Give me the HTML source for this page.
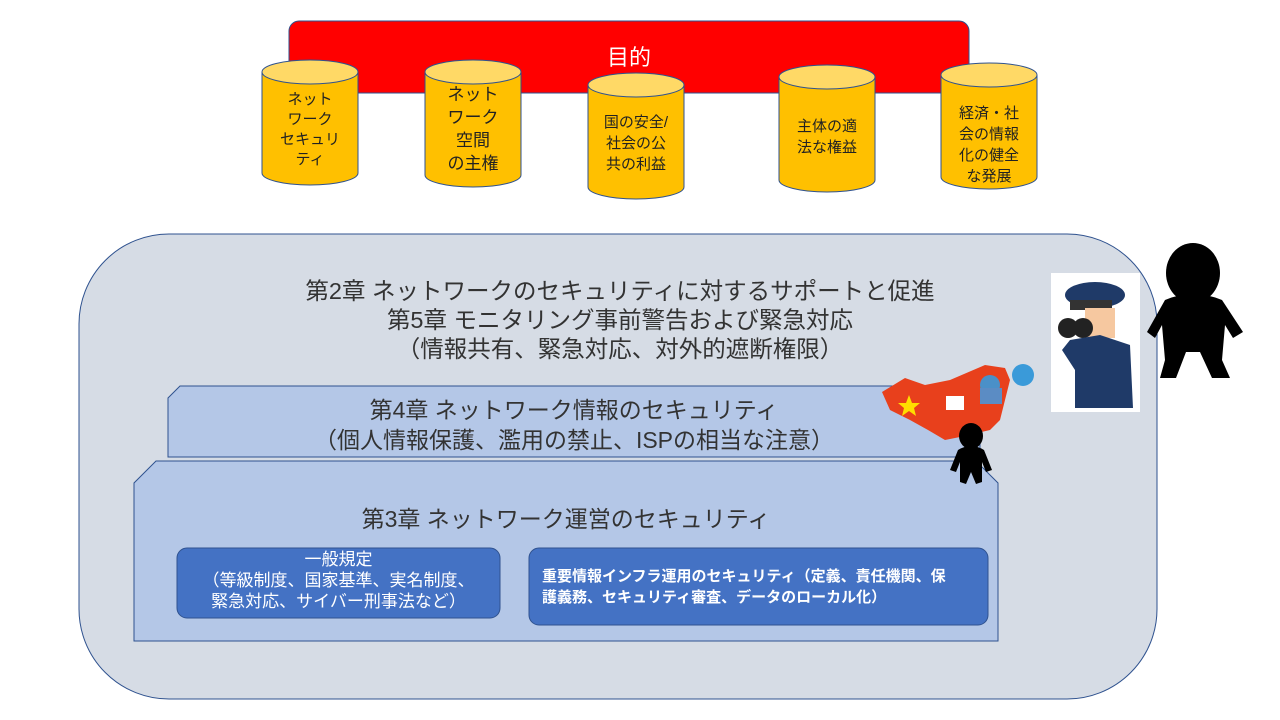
<!DOCTYPE html>
<html><head><meta charset="utf-8"><style>
body{margin:0;width:1280px;height:720px;background:#fff;position:relative;overflow:hidden;font-family:"Liberation Sans","Noto Sans CJK JP",sans-serif;}
.t{position:absolute;text-align:center;color:#222;white-space:nowrap}
svg{position:absolute;left:0;top:0}
</style></head><body>
<svg width="1280" height="720">
<rect x="289" y="21" width="680" height="72" rx="10" fill="#ff0000" stroke="#2f528f" stroke-width="1"/>
<g fill="#ffc000" stroke="#2f528f" stroke-width="1">
<path d="M262,72 v101 a48,12 0 0 0 96,0 v-101"/><ellipse cx="310" cy="72" rx="48" ry="12" fill="#ffd966"/>
<path d="M425,72 v103 a48,12 0 0 0 96,0 v-103"/><ellipse cx="473" cy="72" rx="48" ry="12" fill="#ffd966"/>
<path d="M588,85 v102 a48,12 0 0 0 96,0 v-102"/><ellipse cx="636" cy="85" rx="48" ry="12" fill="#ffd966"/>
<path d="M779,77 v103 a48,12 0 0 0 96,0 v-103"/><ellipse cx="827" cy="77" rx="48" ry="12" fill="#ffd966"/>
<path d="M941,75 v102 a48,12 0 0 0 96,0 v-102"/><ellipse cx="989" cy="75" rx="48" ry="12" fill="#ffd966"/>
</g>
<rect x="79" y="234" width="1078" height="465" rx="90" fill="#d6dce5" stroke="#2f528f"/>
<path d="M180,386 H968 L980,398 V457 H168 V398 Z" fill="#b4c7e7" stroke="#2f528f"/>
<path d="M156,461 H976 L998,483 V641 H134 V483 Z" fill="#b4c7e7" stroke="#2f528f"/>
<rect x="177" y="548" width="323" height="70" rx="10" fill="#4472c4" stroke="#2f528f"/>
<rect x="529" y="548" width="459" height="77" rx="10" fill="#4472c4" stroke="#2f528f"/>
<path d="M882,392 L905,378 L925,385 L950,380 L985,365 L1005,368 L1010,380 L1005,400 L1000,420 L990,430 L960,437 L945,440 L928,430 L910,420 L890,410 Z" fill="#e8401c"/>
<polygon points="909,395 912,403 920,403 914,408 916,416 909,411 902,416 904,408 898,403 906,403" fill="#ffde00"/>
<rect x="946" y="396" width="18" height="14" fill="#fff"/>
<circle cx="990" cy="385" r="10" fill="#4a90c8"/><rect x="980" y="388" width="22" height="16" fill="#5b8cc4"/>
<circle cx="1023" cy="375" r="11" fill="#3a9ad9"/>
<ellipse cx="971" cy="436" rx="12" ry="13" fill="#000"/>
<path d="M958,450 Q971,442 984,450 L992,470 L986,472 L982,462 L982,482 L976,484 L971,472 L966,484 L960,482 L960,462 L956,472 L950,470 Z" fill="#000"/>
<rect x="1051" y="273" width="89" height="139" fill="#fff"/>
<ellipse cx="1095" cy="295" rx="30" ry="13" fill="#1f3a68"/>
<rect x="1070" y="300" width="42" height="10" fill="#333"/>
<rect x="1085" y="308" width="30" height="30" fill="#f6c8a0"/>
<circle cx="1068" cy="328" r="10" fill="#222"/><circle cx="1083" cy="328" r="10" fill="#222"/>
<path d="M1070,340 L1100,335 L1130,345 L1133,408 L1075,408 L1075,370 L1062,350 Z" fill="#1f3a68"/>
<ellipse cx="1193" cy="273" rx="27" ry="30" fill="#000"/>
<path d="M1165,300 Q1193,288 1222,300 L1243,332 L1233,338 L1225,325 L1222,360 L1230,378 L1212,378 L1200,352 L1186,352 L1176,378 L1160,378 L1165,360 L1162,325 L1155,338 L1147,332 Z" fill="#000"/>
</svg>
<div class="t" style="left:289px;top:40px;width:680px;font-size:22px;color:#fff">目的</div>
<div class="t" style="left:262px;top:90px;width:96px;font-size:15px;line-height:20px">ネット<br>ワーク<br>セキュリ<br>ティ</div>
<div class="t" style="left:425px;top:83px;width:96px;font-size:17px;line-height:23px">ネット<br>ワーク<br>空間<br>の主権</div>
<div class="t" style="left:588px;top:112px;width:96px;font-size:15px;line-height:21px">国の安全/<br>社会の公<br>共の利益</div>
<div class="t" style="left:779px;top:116px;width:96px;font-size:15px;line-height:21px">主体の適<br>法な権益</div>
<div class="t" style="left:941px;top:103px;width:96px;font-size:15px;line-height:21px">経済・社<br>会の情報<br>化の健全<br>な発展</div>
<div class="t" style="left:230px;top:277px;width:780px;font-size:23.5px;line-height:29px;color:#333">第2章 ネットワークのセキュリティに対するサポートと促進<br>第5章 モニタリング事前警告および緊急対応<br>（情報共有、緊急対応、対外的遮断権限）</div>
<div class="t" style="left:168px;top:395px;width:812px;font-size:23px;line-height:30px;color:#333">第4章 ネットワーク情報のセキュリティ<br>（個人情報保護、濫用の禁止、ISPの相当な注意）</div>
<div class="t" style="left:134px;top:500px;width:864px;font-size:23px;color:#333">第3章 ネットワーク運営のセキュリティ</div>
<div class="t" style="left:177px;top:549px;width:323px;font-size:17px;line-height:21px;color:#fff">一般規定<br>（等級制度、国家基準、実名制度、<br>緊急対応、サイバー刑事法など）</div>
<div class="t" style="left:542px;top:566px;width:440px;font-size:15px;line-height:21px;color:#fff;text-align:left;font-weight:bold">重要情報インフラ運用のセキュリティ（定義、責任機関、保<br>護義務、セキュリティ審査、データのローカル化）</div>
</body></html>
